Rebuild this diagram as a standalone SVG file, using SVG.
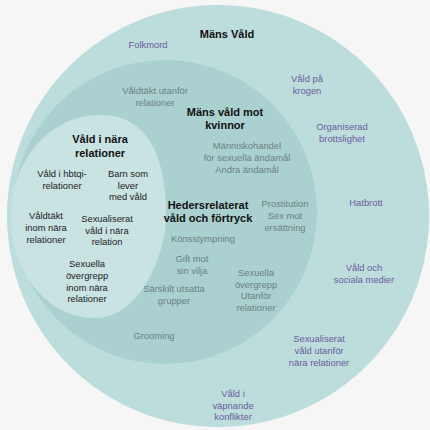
<svg xmlns="http://www.w3.org/2000/svg" width="430" height="430" viewBox="0 0 430 430">
<style>
text{font-family:"Liberation Sans",Arial,sans-serif;text-anchor:middle;font-size:9.4px}
.t{font-weight:bold;font-size:11px;fill:#111}
.p{fill:#6a5d9c}
.g{fill:#6b8183}
.k{fill:#1c1c1c}
</style>
<rect width="430" height="430" fill="#f6f6f6"/>
<g id="mans-vald">
<circle cx="218" cy="216" r="211" fill="#bddcdc"/>
<text class="t" x="227" y="38">Mäns Våld</text>
<text class="p" x="148" y="48">Folkmord</text>
<text class="p" x="307" y="82">Våld på</text>
<text class="p" x="307" y="94">krogen</text>
<text class="p" x="342" y="130">Organiserad</text>
<text class="p" x="342" y="142">brottslighet</text>
<text class="p" x="366" y="206">Hatbrott</text>
<text class="p" x="364" y="271">Våld och</text>
<text class="p" x="364" y="283">sociala medier</text>
<text class="p" x="319" y="342">Sexualiserat</text>
<text class="p" x="319" y="354">våld utanför</text>
<text class="p" x="319" y="366">nära relationer</text>
<text class="p" x="233" y="397">Våld i</text>
<text class="p" x="233" y="409">väpnande</text>
<text class="p" x="233" y="420">konflikter</text>
</g>
<g id="mans-vald-mot-kvinnor">
<circle cx="165" cy="212" r="152" fill="#aad0d0"/>
<text class="t" x="225" y="116">Mäns våld mot</text>
<text class="t" x="225" y="129">kvinnor</text>
<text class="g" x="155" y="94">Våldtäkt utanför</text>
<text class="g" x="155" y="106">relationer</text>
<text class="g" x="247" y="149">Människohandel</text>
<text class="g" x="247" y="161">för sexuella ändamål</text>
<text class="g" x="247" y="173">Andra ändamål</text>
<text class="g" x="285" y="207">Prostitution</text>
<text class="g" x="285" y="219">Sex mot</text>
<text class="g" x="285" y="231">ersättning</text>
<text class="g" x="203" y="242">Könsstympning</text>
<text class="g" x="192" y="262">Gift mot</text>
<text class="g" x="192" y="274">sin vilja</text>
<text class="g" x="174" y="292">Särskilt utsatta</text>
<text class="g" x="174" y="304">grupper</text>
<text class="g" x="256" y="276">Sexuella</text>
<text class="g" x="256" y="288">övergrepp</text>
<text class="g" x="256" y="299">Utanför</text>
<text class="g" x="256" y="311">relationer</text>
<text class="g" x="154" y="339">Grooming</text>
</g>
<g id="vald-i-nara-relationer">
<path d="M100,115 C150,115 166,160 166,215 C166,255 140,318 95,318 C45,318 11,270 11,216 C11,160 50,115 100,115 Z" fill="#c9e3e3"/>
<text class="t" x="100" y="143">Våld i nära</text>
<text class="t" x="100" y="157">relationer</text>
<text class="k" x="62" y="177">Våld i hbtqi-</text>
<text class="k" x="62" y="189">relationer</text>
<text class="k" x="128" y="177">Barn som</text>
<text class="k" x="128" y="189">lever</text>
<text class="k" x="128" y="200">med våld</text>
<text class="k" x="46" y="219">Våldtäkt</text>
<text class="k" x="46" y="231">inom nära</text>
<text class="k" x="46" y="243">relationer</text>
<text class="k" x="107" y="222">Sexualiserat</text>
<text class="k" x="107" y="234">våld i nära</text>
<text class="k" x="107" y="245">relation</text>
<text class="k" x="87" y="267">Sexuella</text>
<text class="k" x="87" y="279">övergrepp</text>
<text class="k" x="87" y="291">inom nära</text>
<text class="k" x="87" y="302">relationer</text>
</g>
<g id="hedersrelaterat">
<text class="t" x="208" y="209">Hedersrelaterat</text>
<text class="t" x="208" y="222">våld och förtryck</text>
</g>
</svg>
